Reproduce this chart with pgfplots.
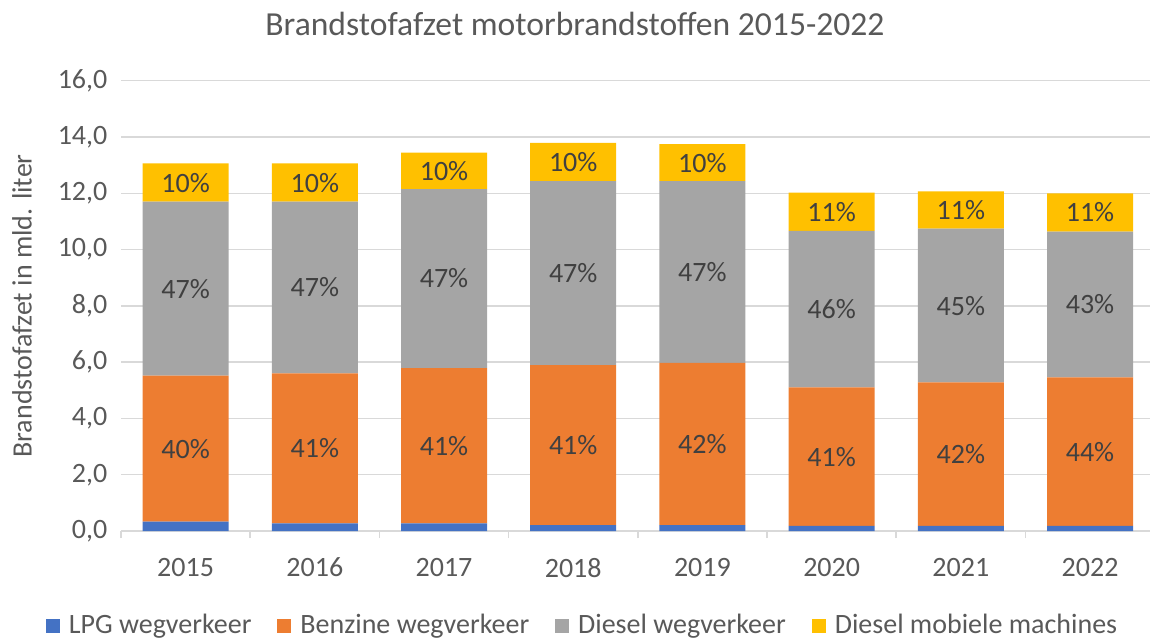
\documentclass[border=0pt]{standalone}
\usepackage{pgfplots}
\pgfplotsset{compat=1.18}
\usepackage{pgfplotstable}
\usepackage{fontspec}
\setmainfont{Carlito}

\definecolor{lpg}{HTML}{4472C4}
\definecolor{benz}{HTML}{ED7D31}
\definecolor{dies}{HTML}{A5A5A5}
\definecolor{mob}{HTML}{FFC000}
\definecolor{txt}{HTML}{595959}
\definecolor{lbl}{HTML}{404040}
\definecolor{gridc}{HTML}{D9D9D9}

% afzet in mld. liter per brandstof, percentages zoals in de staven
\pgfplotstableread{
x jaar lpg benz dies mob pb pd pm
0 2015 0.33 5.19 6.18 1.36 40 47 10
1 2016 0.27 5.33 6.10 1.36 41 47 10
2 2017 0.27 5.52 6.36 1.29 41 47 10
3 2018 0.21 5.68 6.54 1.36 41 47 10
4 2019 0.21 5.76 6.46 1.32 42 47 10
5 2020 0.18 4.92 5.56 1.36 41 46 11
6 2021 0.18 5.10 5.46 1.33 42 45 11
7 2022 0.18 5.28 5.18 1.36 44 43 11
}\afzet

\pgfplotsset{
  sq/.style={legend image code/.code={\fill[#1] (0pt,-3.8pt) rectangle (7pt,3.2pt);}},
  samebox/.style={
    at={(60.5pt,53.5pt)}, anchor=south west,
    scale only axis, width=514.5pt, height=225.15pt,
    xmin=-0.5, xmax=7.464, ymin=0, ymax=16,
  },
}

\begin{document}
\begin{tikzpicture}
\path[use as bounding box] (0,0) rectangle (575pt,319pt);

\begin{axis}[
  samebox,
  ybar stacked, bar width=43pt,
  axis line style={draw=none},
  ymajorgrids, grid style={gridc, line width=0.75pt},
  ytick={0,2,...,16},
  xtick={0,...,7},
  xticklabels={2015,2016,2017,2018,2019,2020,2021,2022},
  xtick pos=bottom, ytick pos=left,
  major tick length=0pt, tick align=outside,
  tick style={draw=gridc, line width=0.75pt},
  extra x ticks={-0.5,0.5,...,6.5},
  extra x tick labels={},
  extra x tick style={major tick length=3.5pt, grid=none},
  /pgf/number format/assume math mode=true,
  tick label style={font=\fontsize{14}{16}\selectfont, text=txt},
  yticklabel style={/pgf/number format/.cd, fixed, fixed zerofill, precision=1, use comma, /tikz/.cd, xshift=-3.3pt},
  xticklabel style={yshift=-10pt},
  ylabel={Brandstofafzet in mld. liter},
  ylabel style={at={(axis description cs:-0.0962,0.5)}, anchor=center, font=\fontsize{14}{16}\selectfont, text=txt},
  title={Brandstofafzet motorbrandstoffen 2015-2022},
  title style={at={(axis description cs:0.4412,1)}, anchor=base, yshift=16.5pt, font=\fontsize{16.8}{20}\selectfont, text=txt},
  legend style={at={(axis description cs:0.4495,-0.2088)}, anchor=center, draw=none, fill=none,
    font=\fontsize{14}{16}\selectfont, text=txt,
    /tikz/every odd column/.append style={column sep=2.5pt},
    /tikz/every even column/.append style={column sep=11pt}},
  legend columns=4, legend cell align=left,
]
\addplot[fill=lpg, draw=none, sq=lpg] table[x=x, y=lpg] {\afzet};
\addlegendentry{LPG wegverkeer}
\addplot[fill=benz, draw=none, sq=benz] table[x=x, y=benz] {\afzet};
\addlegendentry{Benzine wegverkeer}
\addplot[fill=dies, draw=none, sq=dies] table[x=x, y=dies] {\afzet};
\addlegendentry{Diesel wegverkeer}
\addplot[fill=mob, draw=none, sq=mob] table[x=x, y=mob] {\afzet};
\addlegendentry{Diesel mobiele machines}
\end{axis}

% percentages midden in elk segment
\begin{axis}[
  samebox, hide axis,
  nodes near coords={\pgfplotspointmeta\%},
  point meta=explicit symbolic,
  nodes near coords align=center,
  every node near coord/.append style={font=\fontsize{14}{16}\selectfont, text=lbl},
]
\addplot[draw=none] table[x=x, y expr={\thisrow{lpg}+\thisrow{benz}/2}, meta=pb] {\afzet};
\addplot[draw=none] table[x=x, y expr={\thisrow{lpg}+\thisrow{benz}+\thisrow{dies}/2}, meta=pd] {\afzet};
\addplot[draw=none] table[x=x, y expr={\thisrow{lpg}+\thisrow{benz}+\thisrow{dies}+\thisrow{mob}/2}, meta=pm] {\afzet};
\end{axis}
\end{tikzpicture}
\end{document}
